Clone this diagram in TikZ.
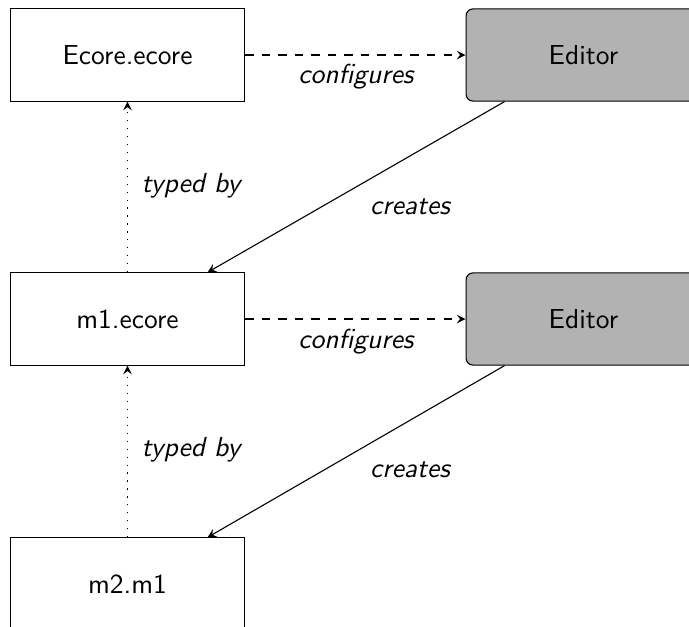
\documentclass[tikz,border=0pt]{standalone}
\usetikzlibrary{calc,arrows}
\begin{document}
\begin{tikzpicture}[x=0.3636pt,y=-0.3636pt,
  font=\sffamily,
  modelbox/.style={draw,rectangle,inner sep=0pt,minimum width=85.4pt,minimum height=33.5pt},
  editorbox/.style={modelbox,fill=black!30,rounded corners=2.5pt},
  lbl/.style={font=\sffamily\itshape,inner sep=0pt},
  conf/.style={dashed,-stealth},
  creat/.style={-stealth},
  typed/.style={dash pattern=on 0.4pt off 2.5pt,-stealth}]
\useasboundingbox (0,0) rectangle (689,627);
\clip (0,0) rectangle (689,627);
\node[modelbox] (ecore) at (127.5,55) {Ecore.ecore};
\node[editorbox] (ed1) at (583.5,55) {Editor};
\node[modelbox] (m1) at (127.5,319) {m1.ecore};
\node[editorbox] (ed2) at (583.5,319) {Editor};
\node[modelbox] (m2) at (127.5,584) {m2.m1};

\draw[conf] (ecore) -- (ed1);
\draw[conf] (m1) -- (ed2);
\draw[creat] ($(ed1.south west)+(39,0)$) -- ($(m1.north west)+(198,0)$);
\draw[creat] ($(ed2.south west)+(39,0)$) -- ($(m2.north west)+(198,0)$);
\draw[typed] (m1.north) -- (ecore.south);
\draw[typed] (m2.north) -- (m1.south);

\node[lbl] (l1) at (356,77) {configures};
\node[lbl] (l2) at (410,207) {creates};
\node[lbl] (l3) at (191,186) {typed by};
\node[lbl] (l4) at (356,342) {configures};
\node[lbl] (l5) at (410,470) {creates};
\node[lbl] (l6) at (191,450) {typed by};
\end{tikzpicture}
\end{document}
